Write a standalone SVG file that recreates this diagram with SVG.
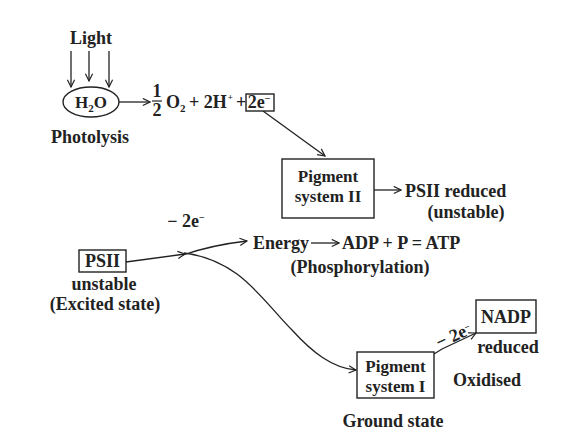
<svg xmlns="http://www.w3.org/2000/svg" width="584" height="438" viewBox="0 0 584 438">
<defs>
<style>
text{font-family:"Liberation Serif","Times New Roman",serif;font-weight:bold;font-size:18px;fill:#222}
.m{text-anchor:middle}
.b{font-size:17px}
.box{fill:#fff;stroke:#222;stroke-width:1.4}
.ln{fill:none;stroke:#222;stroke-width:1.3}
</style>
<marker id="a" viewBox="0 0 10 10" refX="9" refY="5" markerWidth="9" markerHeight="9" orient="auto" markerUnits="userSpaceOnUse">
<path d="M1,1 L9,5 L1,9" fill="none" stroke="#222" stroke-width="1.3"/>
</marker>
</defs>
<rect width="584" height="438" fill="#fff"/>
<g id="connectors">
<line class="ln" x1="71" y1="51" x2="71" y2="87" marker-end="url(#a)"/>
<line class="ln" x1="89" y1="51" x2="89" y2="81" marker-end="url(#a)"/>
<line class="ln" x1="109" y1="51" x2="109" y2="87" marker-end="url(#a)"/>
<line class="ln" x1="119" y1="102" x2="150" y2="102" marker-end="url(#a)"/>
<line class="ln" x1="263" y1="111" x2="325" y2="156" marker-end="url(#a)"/>
<line class="ln" x1="374" y1="190" x2="401" y2="190" marker-end="url(#a)"/>
<path class="ln" d="M126,262 Q155,258 185,254" marker-end="url(#a)"/>
<path class="ln" d="M183,255 Q212,245 247,241" marker-end="url(#a)"/>
<path class="ln" d="M184,253 C240,260 262,300 292,330 C312,352 332,368 356,370" marker-end="url(#a)"/>
<path class="ln" d="M434,354 L442,349 L476,333" marker-end="url(#a)"/>
<line class="ln" x1="311" y1="243" x2="339" y2="243" marker-end="url(#a)"/>
</g>
<g id="light"><text class="m" x="91" y="44">Light</text></g>
<g id="h2o">
<ellipse class="box" cx="91" cy="102" rx="28" ry="15"/>
<text class="m b" x="91" y="108">H<tspan font-size="11" dy="4">2</tspan><tspan dy="-4">O</tspan></text>
</g>
<g id="products">
<text class="m" x="157" y="97" font-size="14">1</text>
<line x1="152" y1="101" x2="162" y2="101" stroke="#222" stroke-width="1.2"/>
<text class="m" x="157" y="116" font-size="14">2</text>
<text x="166" y="108">O<tspan font-size="11" dy="4">2</tspan></text>
<text x="189" y="108" font-size="15">+ 2H<tspan font-size="9" dx="1" dy="-8">+</tspan></text>
<text x="236" y="108" font-size="14">+</text>
</g>
<g id="e2top">
<rect class="box" x="246" y="94" width="28" height="17"/>
<text class="m" x="259" y="108" font-size="15">2e<tspan font-size="10" dy="-6">−</tspan></text>
</g>
<g id="photolysis"><text class="m" x="90" y="143">Photolysis</text></g>
<g id="ps2">
<rect class="box" x="282" y="159" width="92" height="59"/>
<text class="m b" x="328" y="182">Pigment</text>
<text class="m b" x="328" y="202">system II</text>
</g>
<g id="ps2red">
<text x="405" y="197">PSII reduced</text>
<text class="m" x="466" y="218">(unstable)</text>
</g>
<g id="minus2e"><text class="m" x="186" y="227" font-size="16">− 2e<tspan font-size="10" dy="-6">−</tspan></text></g>
<g id="psii">
<rect class="box" x="79" y="250" width="47" height="22"/>
<text class="m" x="102.5" y="267">PSII</text>
<text class="m" x="104" y="290" font-size="17">unstable</text>
<text class="m" x="105" y="310" font-size="17">(Excited state)</text>
</g>
<g id="energy">
<text x="253" y="249">Energy</text>
<text x="342" y="249">ADP + P = ATP</text>
<text class="m" x="360" y="273">(Phosphorylation)</text>
</g>
<g id="ps1">
<rect class="box" x="357" y="352" width="77" height="46"/>
<text class="m b" x="395.5" y="372">Pigment</text>
<text class="m b" x="395.5" y="392">system I</text>
<text class="m" x="393" y="427">Ground state</text>
</g>
<g id="e2bottom"><text class="m" x="456" y="341" font-size="14" transform="rotate(-25 456 341)">− 2e<tspan font-size="9" dy="-5">−</tspan></text></g>
<g id="nadp">
<rect class="box" x="476" y="300" width="60" height="33"/>
<text class="m" x="506" y="323">NADP</text>
<text class="m" x="508" y="353">reduced</text>
</g>
<g id="oxidised"><text x="453" y="386">Oxidised</text></g>
</svg>
